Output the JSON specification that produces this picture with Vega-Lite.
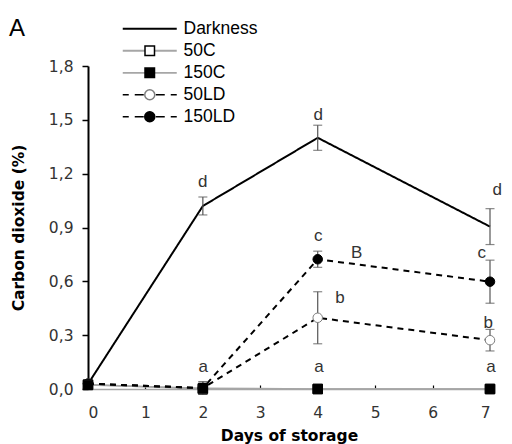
{
  "$schema": "https://vega.github.io/schema/vega-lite/v6.json",
  "width": 402,
  "height": 323,
  "autosize": {"type": "none"},
  "padding": {"left": 88, "top": 66, "right": 22, "bottom": 55},
  "background": "white",
  "config": {"view": {"stroke": null}, "font": "Liberation Sans"},
  "title": {"text": "A", "anchor": "start", "frame": "group", "dx": -79, "dy": 40, "offset": 0, "baseline": "alphabetic", "fontSize": 24, "fontWeight": "normal", "font": "Liberation Sans", "color": "#000000"},
  "datasets": {
    "obs": [
      {"series": "Darkness", "day": 0, "value": 0.028, "err": 0},
      {"series": "Darkness", "day": 2, "value": 1.02, "err": 0.05},
      {"series": "Darkness", "day": 4, "value": 1.4, "err": 0.07},
      {"series": "Darkness", "day": 7, "value": 0.905, "err": 0.1},
      {"series": "50LD", "day": 0, "value": 0.03, "err": 0},
      {"series": "50LD", "day": 2, "value": 0.005, "err": 0.035},
      {"series": "50LD", "day": 4, "value": 0.397, "err": 0.145},
      {"series": "50LD", "day": 7, "value": 0.272, "err": 0.06},
      {"series": "150LD", "day": 0, "value": 0.03, "err": 0},
      {"series": "150LD", "day": 2, "value": 0.005, "err": 0.035},
      {"series": "150LD", "day": 4, "value": 0.723, "err": 0.045},
      {"series": "150LD", "day": 7, "value": 0.598, "err": 0.12},
      {"series": "50C", "day": 0, "value": 0.025, "err": 0},
      {"series": "50C", "day": 2, "value": 0, "err": 0},
      {"series": "50C", "day": 4, "value": 0, "err": 0},
      {"series": "50C", "day": 7, "value": 0, "err": 0},
      {"series": "150C", "day": 0, "value": 0.022, "err": 0},
      {"series": "150C", "day": 2, "value": 0.004, "err": 0},
      {"series": "150C", "day": 4, "value": 0, "err": 0},
      {"series": "150C", "day": 7, "value": 0, "err": 0}
    ],
    "labels": [
      {"day": 2.0, "value": 1.156, "label": "d"},
      {"day": 4.01, "value": 1.527, "label": "d"},
      {"day": 7.127, "value": 1.109, "label": "d"},
      {"day": 4.01, "value": 0.853, "label": "c"},
      {"day": 4.679, "value": 0.756, "label": "B"},
      {"day": 6.855, "value": 0.756, "label": "c"},
      {"day": 4.388, "value": 0.506, "label": "b"},
      {"day": 6.97, "value": 0.366, "label": "b"},
      {"day": 2.008, "value": 0.124, "label": "a"},
      {"day": 4.022, "value": 0.124, "label": "a"},
      {"day": 7.017, "value": 0.124, "label": "a"}
    ],
    "keys": [
      {"series": "Darkness"},
      {"series": "50C"},
      {"series": "150C"},
      {"series": "50LD"},
      {"series": "150LD"}
    ]
  },
  "data": {"name": "obs"},
  "encoding": {
    "x": {
      "field": "day",
      "type": "quantitative",
      "scale": {"domain": [0, 7], "nice": false, "zero": false},
      "axis": {
        "title": "Days of storage",
        "values": [0, 1, 2, 3, 4, 5, 6, 7],
        "format": "d",
        "grid": false,
        "tickSize": -4,
        "tickColor": "#000000",
        "tickWidth": 1.2,
        "domainColor": "#a6a6a6",
        "domainWidth": 1.5,
        "labelPadding": 20,
        "labelFont": "DejaVu Sans",
        "labelFontSize": 15.5,
        "labelColor": "#333333",
        "titleFont": "DejaVu Sans",
        "titleFontWeight": "bold",
        "titleFontSize": 15.5,
        "titleColor": "#000000",
        "titlePadding": 8
      }
    },
    "y": {
      "field": "value",
      "type": "quantitative",
      "scale": {"domain": [0, 1.8], "nice": false},
      "axis": {
        "title": "Carbon dioxide (%)",
        "values": [0, 0.3, 0.6, 0.9, 1.2, 1.5, 1.8],
        "labelExpr": "replace(format(datum.value, '.1f'), '.', ',')",
        "grid": false,
        "tickSize": 6,
        "tickColor": "#000000",
        "tickWidth": 1.5,
        "domainColor": "#000000",
        "domainWidth": 2,
        "labelPadding": 9,
        "labelFont": "DejaVu Sans",
        "labelFontSize": 15.5,
        "labelColor": "#333333",
        "titleFont": "DejaVu Sans",
        "titleFontWeight": "bold",
        "titleFontSize": 15.5,
        "titleColor": "#000000",
        "titlePadding": 22
      }
    }
  },
  "layer": [
    {
      "transform": [{"filter": "datum.series === '50C' || datum.series === '150C'"}],
      "mark": {"type": "line", "stroke": "#a6a6a6", "strokeWidth": 1.5},
      "encoding": {"detail": {"field": "series"}}
    },
    {
      "transform": [{"filter": "datum.series === 'Darkness' || datum.series === '50LD' || datum.series === '150LD'"}],
      "mark": {"type": "line", "stroke": "#000000", "strokeWidth": 2},
      "encoding": {
        "detail": {"field": "series"},
        "strokeDash": {"field": "series", "type": "nominal", "scale": {"domain": ["Darkness", "50LD", "150LD"], "range": [[1, 0], [6, 5], [6, 5]]}, "legend": null}
      }
    },
    {
      "transform": [{"filter": "datum.err > 0"}],
      "mark": {"type": "errorbar", "ticks": {"size": 9}, "color": "#555555", "thickness": 1.2},
      "encoding": {"yError": {"field": "err"}}
    },
    {
      "transform": [{"filter": "datum.series !== 'Darkness'"}],
      "mark": {"type": "point", "filled": true, "size": 90, "strokeWidth": 1, "opacity": 1},
      "encoding": {
        "shape": {"field": "series", "type": "nominal", "scale": {"domain": ["50C", "150C", "50LD", "150LD"], "range": ["square", "square", "circle", "circle"]}, "legend": null},
        "fill": {"field": "series", "type": "nominal", "scale": {"domain": ["50C", "150C", "50LD", "150LD"], "range": ["#ffffff", "#000000", "#ffffff", "#000000"]}, "legend": null},
        "stroke": {"field": "series", "type": "nominal", "scale": {"domain": ["50C", "150C", "50LD", "150LD"], "range": ["#000000", "#000000", "#7f7f7f", "#000000"]}, "legend": null}
      }
    },
    {
      "data": {"name": "labels"},
      "mark": {"type": "text", "fontSize": 17, "font": "Liberation Sans", "color": "#333333", "baseline": "middle", "align": "center"},
      "encoding": {"text": {"field": "label", "type": "nominal"}}
    },
    {
      "data": {"name": "keys"},
      "transform": [{"filter": "datum.series === 'none'"}],
      "mark": {"type": "point", "filled": false, "opacity": 1},
      "encoding": {
        "shape": {
          "field": "series", "type": "nominal",
          "scale": {"domain": ["Darkness", "50C", "150C", "50LD", "150LD"], "range": ["M-5.4,0H5.4", "M-5.4,0H-0.95M0.95,0H5.4", "M-5.4,0H-0.95M0.95,0H5.4", "M-5.4,0H-4.2M-3,0H-1.2M1.2,0H3M4.2,0H5.4", "M-5.4,0H-4.2M-3,0H-1.2M1.2,0H3M4.2,0H5.4"]},
          "legend": {"orient": "none", "legendX": 53, "legendY": -46, "title": null, "symbolSize": 100, "symbolOpacity": 1, "labelFont": "Liberation Sans", "labelFontSize": 17.5, "labelColor": "#000000", "labelOffset": 25, "rowPadding": 3, "padding": 0, "labelOpacity": 0}
        },
        "stroke": {"field": "series", "type": "nominal", "scale": {"domain": ["Darkness", "50C", "150C", "50LD", "150LD"], "range": ["#000000", "#a6a6a6", "#a6a6a6", "#000000", "#000000"]}},
        "strokeWidth": {"field": "series", "type": "nominal", "scale": {"domain": ["Darkness", "50C", "150C", "50LD", "150LD"], "range": [2, 1.5, 1.5, 2, 2]}}
      }
    },
    {
      "data": {"name": "keys"},
      "transform": [{"filter": "datum.series === 'none'"}],
      "mark": {"type": "point", "filled": true, "strokeWidth": 1, "opacity": 1},
      "encoding": {
        "shape": {
          "field": "series", "type": "nominal",
          "scale": {"domain": ["Darkness", "50C", "150C", "50LD", "150LD"], "range": ["M-0.1,0H0.1", "M-0.95,-0.95H0.95V0.95H-0.95Z", "M-0.95,-0.95H0.95V0.95H-0.95Z", "M1,0A1,1,0,1,1,-1,0A1,1,0,1,1,1,0Z", "M1,0A1,1,0,1,1,-1,0A1,1,0,1,1,1,0Z"]},
          "legend": {"orient": "none", "legendX": 53, "legendY": -46, "title": null, "symbolSize": 100, "symbolOpacity": 1, "labelFont": "Liberation Sans", "labelFontSize": 17.5, "labelColor": "#000000", "labelOffset": 25, "rowPadding": 3, "padding": 0}
        },
        "fill": {"field": "series", "type": "nominal", "scale": {"domain": ["Darkness", "50C", "150C", "50LD", "150LD"], "range": ["transparent", "#ffffff", "#000000", "#ffffff", "#000000"]}},
        "stroke": {"field": "series", "type": "nominal", "scale": {"domain": ["Darkness", "50C", "150C", "50LD", "150LD"], "range": ["transparent", "#000000", "#000000", "#7f7f7f", "#000000"]}}
      }
    }
  ],
  "resolve": {
    "scale": {"shape": "independent", "fill": "independent", "stroke": "independent", "strokeWidth": "independent", "strokeDash": "independent"},
    "legend": {"shape": "independent", "fill": "independent", "stroke": "independent", "strokeWidth": "independent", "strokeDash": "independent"}
  }
}
